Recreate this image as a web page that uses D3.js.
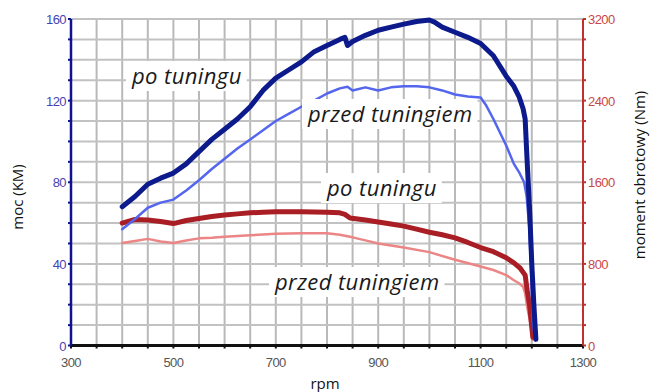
<!DOCTYPE html>
<html>
<head>
<meta charset="utf-8">
<script src="https://cdn.jsdelivr.net/npm/d3@7"></script>
<style>
  html, body { margin: 0; padding: 0; background: #fff; }
  svg { display: block; }
</style>
</head>
<body>
<svg id="mainSvg"></svg>
<script>
// rpm / value pairs
const rpmPowerAfter = [400,425,450,475,500,525,550,575,600,625,650,675,700,725,750,775,800,825,835,840,850,875,900,925,950,975,1000,1010,1025,1050,1075,1100,1125,1150,1165,1175,1183,1187,1190,1192,1196,1200,1204,1208];
const powerAfter = [68,73,79,82,84.5,89,95,101,106,111,117,125,131,135,139,144,147,150,151,147,149,152,154.5,156,157.5,158.8,159.5,158.5,156,153.5,151,148,142,132,127,122,116,111,95,85,65,40,20,3];

const rpmPowerBefore = [400,425,450,475,500,525,550,575,600,625,650,675,700,725,750,775,800,825,840,850,875,900,925,950,975,1000,1025,1050,1075,1100,1110,1125,1150,1165,1175,1185,1190,1195,1198,1202,1206];
const powerBefore = [57,62,67.5,70,71.5,76,81,86.5,91.5,96.5,101,105.5,110,113.5,117,120,123.5,126,126.8,125,126.5,125,126.5,127,127,126.5,125,123,122,121.5,118,111,98,89,85,80,73,58,40,12,3];

const rpmTorqueAfter = [400,425,450,475,500,525,550,575,600,625,650,675,700,750,800,825,835,845,875,900,925,950,975,1000,1025,1050,1075,1100,1125,1150,1165,1177,1187,1191,1196,1202];
const torqueAfter = [1200,1235,1230,1215,1195,1225,1245,1265,1280,1290,1300,1307,1310,1310,1305,1300,1285,1250,1230,1210,1190,1170,1140,1110,1085,1055,1010,960,920,860,810,760,690,540,380,80];

const rpmTorqueBefore = [400,425,450,475,500,525,550,575,600,650,700,750,800,825,850,875,900,950,1000,1050,1100,1125,1150,1165,1175,1183,1187,1191,1196,1202];
const torqueBefore = [1005,1025,1045,1020,1005,1030,1050,1055,1065,1080,1095,1100,1100,1085,1060,1030,1000,960,915,840,775,740,690,640,610,575,510,380,250,55];

const rpmTicks = [300,500,700,900,1100,1300];
const powerTicks = [0,40,80,120,160];
const torqueTicks = [0,800,1600,2400,3200];

const labels = [
  {text: 'po tuningu', x: 132, y: 84},
  {text: 'przed tuningiem', x: 308, y: 122},
  {text: 'po tuningu', x: 327, y: 196},
  {text: 'przed tuningiem', x: 275, y: 290}
];

const [w, h] = [652, 392];
const svg = d3.select('#mainSvg').attr('width', w).attr('height', h);

const x = d3.scaleLinear().domain([300, 1300]).range([71, 583]);
const yP = d3.scaleLinear().domain([0, 160]).range([345.5, 19]);
const yT = d3.scaleLinear().domain([0, 3200]).range([345.5, 19]);

// grid
const grid = svg.append('g');
grid.selectAll('line.v').data(d3.range(300, 1301, 50)).enter().append('line')
  .attr('x1', d => x(d)).attr('x2', d => x(d)).attr('y1', yP(160)).attr('y2', yP(0))
  .attr('stroke', '#b9b9b9').attr('stroke-width', 2);
grid.selectAll('line.h').data(d3.range(10, 161, 10)).enter().append('line')
  .attr('x1', x(300)).attr('x2', x(1300)).attr('y1', d => yP(d)).attr('y2', d => yP(d))
  .attr('stroke', '#c2c2c2').attr('stroke-width', 2);

// curves
const drawCurve = (rpm, vals, yScale, color, width) => {
  const pts = rpm.map((r, i) => [r, vals[i]]);
  svg.append('path').datum(pts)
    .attr('d', d3.line().x(d => x(d[0])).y(d => yScale(d[1])))
    .attr('fill', 'none').attr('stroke', color).attr('stroke-width', width)
    .attr('stroke-linejoin', 'round').attr('stroke-linecap', 'round');
};
drawCurve(rpmTorqueBefore, torqueBefore, yT, '#ec8686', 2.5);
drawCurve(rpmTorqueAfter, torqueAfter, yT, '#a81e24', 5);
drawCurve(rpmPowerBefore, powerBefore, yP, '#5466ee', 2.5);
drawCurve(rpmPowerAfter, powerAfter, yP, '#0c1a8c', 5);

// labels with white boxes
const lab = svg.append('g');
labels.forEach(l => {
  const t = lab.append('text').attr('x', l.x).attr('y', l.y)
    .attr('font-family', 'Open Sans, sans-serif').attr('font-style', 'italic')
    .attr('font-size', 22).attr('letter-spacing', 0.4).attr('fill', '#1a1a1a').text(l.text);
  const bb = t.node().getBBox();
  lab.insert('rect', 'text:last-child')
    .attr('x', bb.x - 5).attr('y', bb.y + 1).attr('width', bb.width + 10).attr('height', bb.height)
    .attr('fill', '#fff');
});

// axes
const bottom = svg.append('g');
bottom.append('line').attr('x1', x(300)).attr('x2', x(1300)).attr('y1', yP(0)).attr('y2', yP(0))
  .attr('stroke', '#111').attr('stroke-width', 3);
bottom.selectAll('line.t').data(d3.range(300, 1301, 50)).enter().append('line')
  .attr('x1', d => x(d)).attr('x2', d => x(d)).attr('y1', yP(0)).attr('y2', yP(0) + 3)
  .attr('stroke', '#111').attr('stroke-width', 2);
bottom.selectAll('text').data(rpmTicks).enter().append('text')
  .attr('x', d => x(d)).attr('y', 367).attr('text-anchor', 'middle')
  .attr('font-family', 'Liberation Sans, Arial, sans-serif').attr('font-size', 13)
  .attr('letter-spacing', -0.6).attr('fill', '#555').text(d => d);

const left = svg.append('g');
left.append('line').attr('x1', x(300)).attr('x2', x(300)).attr('y1', yP(160)).attr('y2', yP(0))
  .attr('stroke', '#12128f').attr('stroke-width', 2.5);
left.selectAll('line.t').data(d3.range(0, 161, 10)).enter().append('line')
  .attr('x1', x(300) - 3).attr('x2', x(300)).attr('y1', d => yP(d)).attr('y2', d => yP(d))
  .attr('stroke', '#12128f').attr('stroke-width', 2);
left.selectAll('text').data(powerTicks).enter().append('text')
  .attr('x', x(300) - 5).attr('y', d => yP(d) + 5).attr('text-anchor', 'end')
  .attr('font-family', 'Liberation Sans, Arial, sans-serif').attr('font-size', 13)
  .attr('letter-spacing', -0.6).attr('fill', '#4444b4').text(d => d);

const right = svg.append('g');
right.append('line').attr('x1', x(1300)).attr('x2', x(1300)).attr('y1', yT(3200)).attr('y2', yT(0))
  .attr('stroke', '#c0302f').attr('stroke-width', 2);
right.selectAll('line.t').data(d3.range(0, 3201, 200)).enter().append('line')
  .attr('x1', x(1300)).attr('x2', x(1300) + 3).attr('y1', d => yT(d)).attr('y2', d => yT(d))
  .attr('stroke', '#c0302f').attr('stroke-width', 2);
right.selectAll('text').data(torqueTicks).enter().append('text')
  .attr('x', x(1300) + 5).attr('y', d => yT(d) + 5).attr('text-anchor', 'start')
  .attr('font-family', 'Liberation Sans, Arial, sans-serif').attr('font-size', 13)
  .attr('letter-spacing', -0.6).attr('fill', '#c84848').text(d => d);

// axis titles
svg.append('text').attr('transform', 'translate(23,197) rotate(-90)').attr('text-anchor', 'middle')
  .attr('font-family', 'Open Sans, sans-serif').attr('font-size', 15).attr('fill', '#111').text('moc (KM)');
svg.append('text').attr('transform', 'translate(645,175) rotate(-90)').attr('text-anchor', 'middle')
  .attr('font-family', 'Open Sans, sans-serif').attr('font-size', 15).attr('fill', '#111').text('moment obrotowy (Nm)');
svg.append('text').attr('x', 325).attr('y', 389).attr('text-anchor', 'middle')
  .attr('font-family', 'Open Sans, sans-serif').attr('font-size', 15).attr('fill', '#111').text('rpm');
</script>
</body>
</html>
